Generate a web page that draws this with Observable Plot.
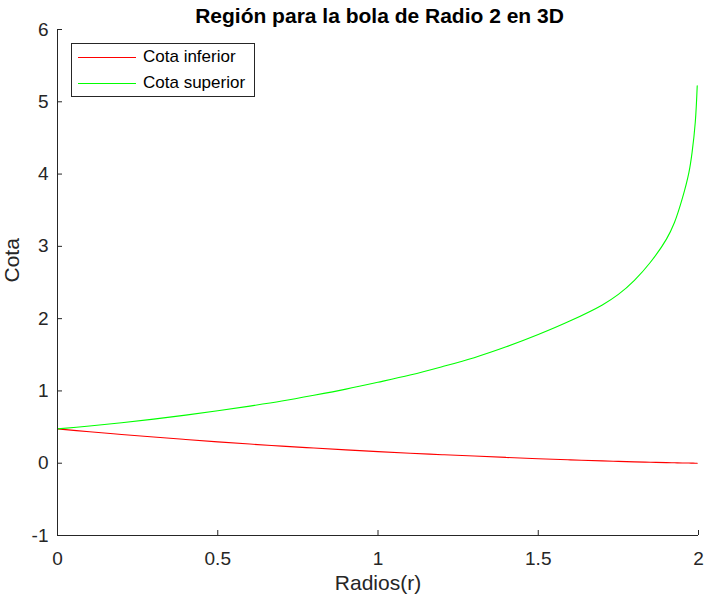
<!DOCTYPE html>
<html>
<head>
<meta charset="utf-8">
<script src="https://cdn.jsdelivr.net/npm/d3@7"></script>
<script src="https://cdn.jsdelivr.net/npm/@observablehq/plot@0.6"></script>
<style>
  html, body { margin: 0; padding: 0; background: #fff; }
  #wrap { position: relative; width: 707px; height: 600px; font-family: "Liberation Sans", Arial, sans-serif; }
  #legend { position: absolute; left: 71px; top: 43px; width: 182px; height: 52px; border: 1px solid #262626; background: #fff; box-sizing: content-box; }
  .row { position: absolute; left: 0; height: 20px; display: flex; align-items: center; }
  .sw { width: 58px; height: 1px; margin-left: 6px; margin-right: 7px; }
  .lab { font-size: 17px; color: #000; white-space: nowrap; }
</style>
</head>
<body>
<div id="wrap"></div>
<script>
const titulo = "Región para la bola de Radio 2 en 3D";
const etiquetaX = "Radios(r)";
const etiquetaY = "Cota";
const series = ["Cota inferior", "Cota superior"];
const colores = ["#ff0000", "#00ff00"];

const radios = [0, 0.1, 0.2, 0.3, 0.4, 0.5, 0.6, 0.7, 0.8, 0.9, 1.0, 1.1, 1.2, 1.3, 1.4, 1.5, 1.6, 1.7, 1.75, 1.8, 1.85, 1.9, 1.925, 1.95, 1.97, 1.98, 1.99, 1.996];
const cotaInferior = [0.475, 0.435, 0.398, 0.362, 0.328, 0.295, 0.265, 0.237, 0.21, 0.184, 0.16, 0.138, 0.118, 0.099, 0.08, 0.062, 0.046, 0.032, 0.025, 0.019, 0.013, 0.008, 0.006, 0.004, 0.002, 0.0015, 0.0005, 0];
const cotaSuperior = [0.475, 0.515, 0.56, 0.61, 0.665, 0.725, 0.79, 0.86, 0.94, 1.025, 1.12, 1.22, 1.335, 1.46, 1.61, 1.78, 1.97, 2.19, 2.335, 2.53, 2.78, 3.10, 3.33, 3.67, 4.02, 4.30, 4.72, 5.22];

const xTicks = [0, 0.5, 1, 1.5, 2];
const yTicks = [-1, 0, 1, 2, 3, 4, 5, 6];

const inferior = radios.map((r, i) => ({r, v: cotaInferior[i]}));
const superior = radios.map((r, i) => ({r, v: cotaSuperior[i]}));

const W = 707, H = 600, mL = 57, mR = 9, mT = 29, mB = 65;
const pw = W - mL - mR, ph = H - mT - mB;
const axisColor = "#262626";
const font = "Liberation Sans, Arial, sans-serif";

const chart = Plot.plot({
  width: W, height: H,
  marginLeft: mL, marginRight: mR, marginTop: mT, marginBottom: mB,
  style: {fontFamily: font, background: "#fff", overflow: "visible"},
  x: {domain: [0, 2], axis: null},
  y: {domain: [-1, 6], axis: null},
  marks: [
    Plot.line(inferior, {x: "r", y: "v", stroke: colores[0], strokeWidth: 1.1, curve: "catmull-rom"}),
    Plot.line(superior, {x: "r", y: "v", stroke: colores[1], strokeWidth: 1.1, curve: "catmull-rom"}),
    Plot.ruleX([0], {stroke: axisColor, strokeWidth: 1}),
    Plot.ruleY([-1], {stroke: axisColor, strokeWidth: 1}),
    Plot.tickX(xTicks, {x: d => d, stroke: axisColor, insetTop: ph - 5}),
    Plot.tickY(yTicks, {y: d => d, stroke: axisColor, insetRight: pw - 5}),
    Plot.text(xTicks, {x: d => d, frameAnchor: "bottom", lineAnchor: "bottom", dy: 29, text: d => String(d), fontSize: 19, fill: axisColor}),
    Plot.text(yTicks, {y: d => d, frameAnchor: "left", textAnchor: "end", lineAnchor: "middle", dx: -9, text: d => String(d), fontSize: 19, fill: axisColor}),
    Plot.text([etiquetaX], {frameAnchor: "bottom", lineAnchor: "bottom", dy: 54, text: d => d, fontSize: 21, fill: axisColor}),
    Plot.text([etiquetaY], {frameAnchor: "left", lineAnchor: "bottom", rotate: -90, dx: -39, text: d => d, fontSize: 21, fill: axisColor}),
    Plot.text([titulo], {frameAnchor: "top", lineAnchor: "bottom", dy: -6.3, dx: 1.5, text: d => d, fontSize: 21, fontWeight: "bold", fill: "#000"})
  ]
});

const wrap = document.getElementById("wrap");
wrap.appendChild(chart);

const legend = document.createElement("div");
legend.id = "legend";
series.forEach((s, i) => {
  const row = document.createElement("div");
  row.className = "row";
  row.style.top = (i === 0 ? 3 : 29) + "px";
  const sw = document.createElement("span");
  sw.className = "sw";
  sw.style.background = colores[i];
  const lab = document.createElement("span");
  lab.className = "lab";
  lab.textContent = s;
  row.appendChild(sw);
  row.appendChild(lab);
  legend.appendChild(row);
});
wrap.appendChild(legend);
</script>
</body>
</html>
